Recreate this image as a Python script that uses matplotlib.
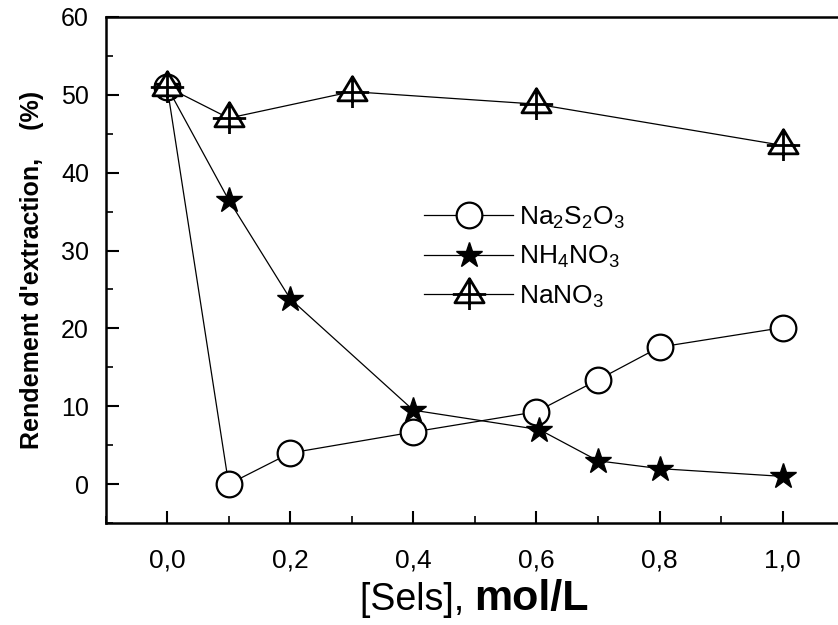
import numpy as np
import matplotlib
matplotlib.use('Agg')
import matplotlib.pyplot as plt
from matplotlib.path import Path
from matplotlib.ticker import MultipleLocator, FuncFormatter

plt.rcParams['font.family'] = ['Liberation Sans', 'DejaVu Sans']
plt.rcParams['mathtext.fontset'] = 'custom'
plt.rcParams['mathtext.rm'] = 'Liberation Sans'
plt.rcParams['mathtext.it'] = 'Liberation Sans:italic'
plt.rcParams['mathtext.bf'] = 'Liberation Sans:bold'

# data
x_thio = [0.0, 0.1, 0.2, 0.4, 0.6, 0.7, 0.8, 1.0]
y_thio = [51.0, 0.0, 4.0, 6.7, 9.3, 13.4, 17.6, 20.1]

x_nh4 = [0.0, 0.1, 0.2, 0.4, 0.605, 0.7, 0.8, 1.0]
y_nh4 = [51.0, 36.5, 23.8, 9.5, 7.0, 3.0, 2.0, 1.0]

x_na = [0.0, 0.1, 0.3, 0.6, 1.0]
y_na = [51.0, 47.0, 50.4, 48.8, 43.5]

labels = [r'Na$_2$S$_2$O$_3$', r'NH$_4$NO$_3$', r'NaNO$_3$']

# triangle with a cross through it
verts = [(0, 0.95), (-0.875, -0.5), (0.875, -0.5), (0, 0.95),
         (-1.0, 0.0), (1.0, 0.0),
         (0, 0.95), (0, -0.93)]
codes = [Path.MOVETO, Path.LINETO, Path.LINETO, Path.CLOSEPOLY,
         Path.MOVETO, Path.LINETO,
         Path.MOVETO, Path.LINETO]
tri_cross = Path(verts, codes)

fig = plt.figure(figsize=(8.38, 6.25), dpi=100)
ax = fig.add_axes([0.126, 0.163, 0.874, 0.81])

ax.plot(x_thio, y_thio, c='black', lw=0.9, marker='o', ms=18.5,
        mfc='white', mec='black', mew=1.6, label=labels[0])
ax.plot(x_nh4, y_nh4, c='black', lw=0.9, marker='*', ms=19,
        mfc='black', mec='black', label=labels[1])
ax.plot(x_na, y_na, c='black', lw=0.9, marker=tri_cross, ms=24,
        mfc='white', mec='black', mew=2.0, label=labels[2])

ax.set_xlim(-0.1, 1.09)
ax.set_ylim(-5, 60)

ax.xaxis.set_major_locator(MultipleLocator(0.2))
ax.xaxis.set_minor_locator(MultipleLocator(0.1))
ax.yaxis.set_major_locator(MultipleLocator(10))
ax.yaxis.set_minor_locator(MultipleLocator(5))
ax.xaxis.set_major_formatter(FuncFormatter(lambda v, p: ('%.1f' % v).replace('.', ',')))
ax.yaxis.set_major_formatter(FuncFormatter(lambda v, p: '%d' % v))

ax.tick_params(which='major', direction='in', length=9, width=1.5, labelsize=18, pad=12)
ax.tick_params(which='minor', direction='in', length=5, width=1.2)
ax.tick_params(axis='x', labelsize=19, pad=18)

for s in ['left', 'bottom', 'top']:
    ax.spines[s].set_linewidth(1.8)
ax.spines['right'].set_visible(False)

ax.set_ylabel("Rendement d'extraction,    (%)", fontsize=18, fontweight='bold', labelpad=12)

fig.text(0.566, 0.024, '[Sels], ', fontsize=27, ha='right', va='baseline')
fig.text(0.566, 0.024, 'mol/L', fontsize=31, fontweight='bold', ha='left', va='baseline')

leg = ax.legend(loc='upper left', bbox_to_anchor=(0.402, 0.676), frameon=False,
                fontsize=19, handlelength=3.4, handletextpad=0.2, labelspacing=0.5)

fig.savefig('out.png', dpi=100)
